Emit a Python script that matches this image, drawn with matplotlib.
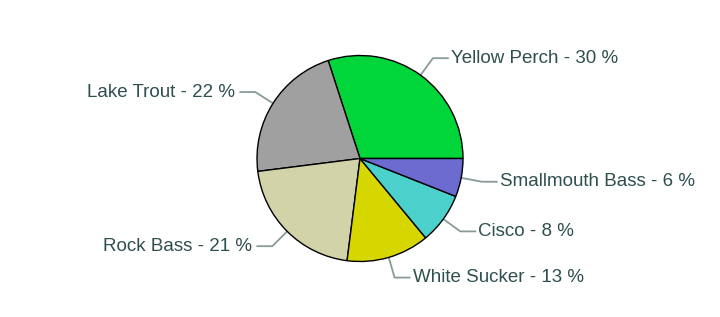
import matplotlib.pyplot as plt
import numpy as np

# data
species = ["Yellow Perch", "Lake Trout", "Rock Bass", "White Sucker", "Cisco", "Smallmouth Bass"]
shares = [30, 22, 21, 13, 8, 6]
colors = ["#00d639", "#a0a0a0", "#d3d3aa", "#d6d600", "#4bd0cb", "#6b6bd0"]

W, H = 720, 317
fig = plt.figure(figsize=(W / 100, H / 100), dpi=100)
ax = fig.add_axes([0, 0, 1, 1])

cx, cy, r = 360, H - 158.5, 103
wedges, _ = ax.pie(shares, colors=colors, startangle=0, counterclock=True,
                   center=(cx, cy), radius=r, frame=True,
                   wedgeprops=dict(edgecolor="black", linewidth=1))
ax.set_xlim(0, W)
ax.set_ylim(0, H)
ax.set_aspect("equal")
ax.axis("off")

txt_color = "#2f4f4f"
line_color = "#8a9a9a"
for w, name, val in zip(wedges, species, shares):
    ang = np.deg2rad((w.theta1 + w.theta2) / 2)
    x0, y0 = cx + r * np.cos(ang), cy + r * np.sin(ang)
    x1, y1 = cx + 124 * np.cos(ang), cy + 124 * np.sin(ang)
    side = 1 if np.cos(ang) >= 0 else -1
    x2 = x1 + 15 * side
    ax.plot([x0, x1, x2], [y0, y1, y1], color=line_color, lw=1.3, zorder=0)
    gap = 3 if side > 0 else 5
    ax.text(x2 + gap * side, y1, f"{name} - {val} %", ha="left" if side > 0 else "right",
            va="center", fontsize=13.5, color=txt_color, family="Liberation Sans")

fig.savefig("out.png", dpi=100)
